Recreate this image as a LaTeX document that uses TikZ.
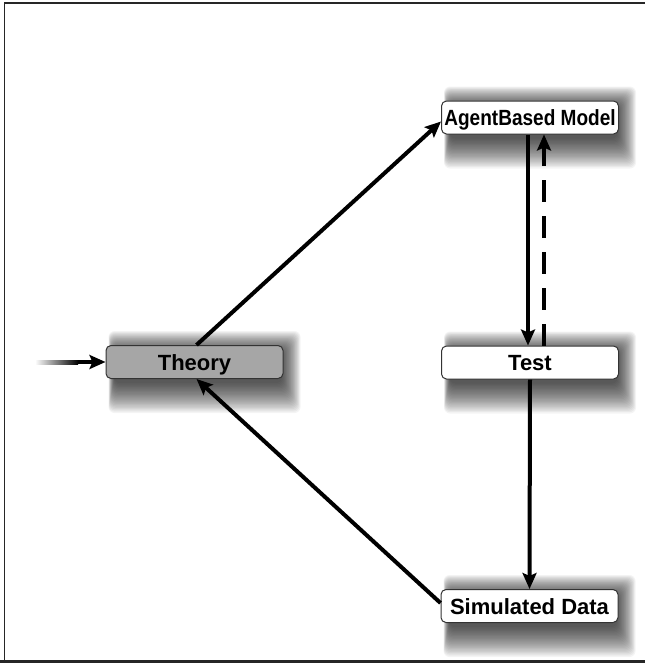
\documentclass[tikz,border=0pt]{standalone}
\usepackage{fontspec}
\setmainfont{Liberation Sans}
\usetikzlibrary{arrows.meta,backgrounds}
\newcommand\softshadow[1]{%
  \foreach \i in {0,...,23}{%
    \fill[black, opacity=0.042, rounded corners=6pt]
      ([xshift=3pt+0.25pt*\i, yshift=14pt-0.9pt*\i]#1.north west) rectangle
      ([xshift=17pt-0.8pt*\i, yshift=-34pt+1.3pt*\i]#1.south east);
  }}
\begin{document}
\begin{tikzpicture}[x=1pt,y=-1pt,
  box/.style={draw=black!80, line width=1pt, rounded corners=5pt, fill=white,
    minimum width=177pt, minimum height=33pt, inner sep=0pt,
    text height=16pt, text depth=0pt,
    font=\fontsize{22}{24}\selectfont\bfseries},
  arr/.style={line width=4pt, -{Stealth[length=16pt,width=14pt,inset=3pt]}},
  frame/.style={line width=1.5pt, black!85}]
\useasboundingbox (0,0) rectangle (645,665);

\node[box] (agent) at (530,117.5) {\scalebox{0.865}[1]{AgentBased Model}};
\node[box] (test) at (530,362.5) {Test};
\node[box, fill=black!35] (theory) at (194.5,362) {Theory};
\node[box] (sim) at (529.5,606) {Simulated Data};
\coordinate (in) at (35,362);
\coordinate (inmid) at (78,362);

\begin{scope}[on background layer]
  \softshadow{agent}
  \softshadow{test}
  \softshadow{theory}
  \softshadow{sim}
\end{scope}

\draw[frame] (645,3) -- (4.5,3) -- (4.5,661);
\draw[line width=3pt, black!85] (0,661.5) -- (645,661.5);

\shade[left color=white, right color=black] ([yshift=2pt]in) rectangle ([yshift=-2pt]inmid);
\draw[arr] (inmid) -- (theory.west);
\draw[arr] ([xshift=2pt]theory.north) -- ([yshift=-4pt]agent.west);
\draw[arr] ([xshift=-2pt]agent.south) -- ([xshift=-2pt]test.north);
\draw[arr, dash pattern=on 22pt off 14pt] ([xshift=14pt]test.north) -- ([xshift=14pt]agent.south);
\draw[arr] (test.south) -- (sim.north);
\draw[arr] ([yshift=3pt]sim.west) -- ([xshift=2pt]theory.south);
\end{tikzpicture}
\end{document}
